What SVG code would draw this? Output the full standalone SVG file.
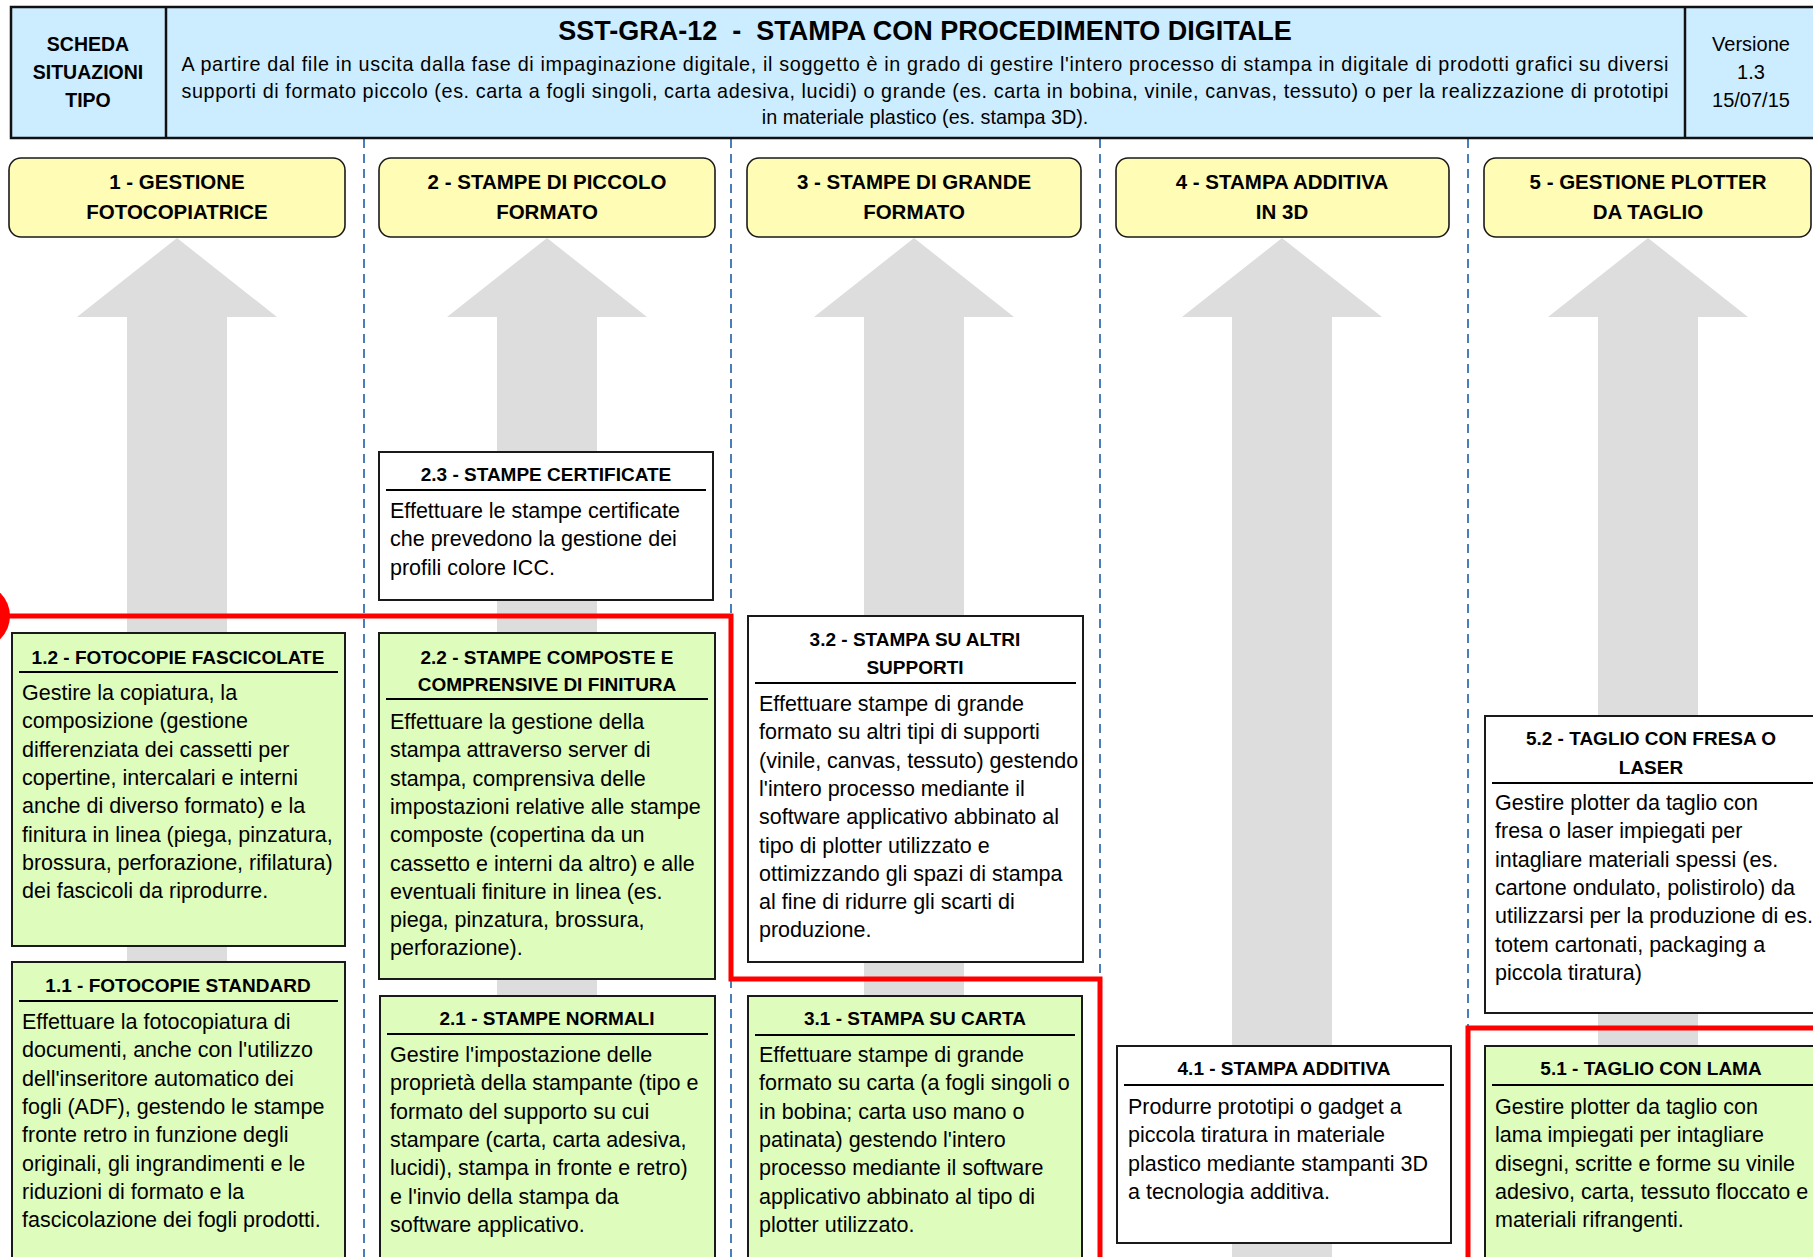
<svg xmlns="http://www.w3.org/2000/svg" width="1813" height="1257" viewBox="0 0 1813 1257">
<style>
text { font-family: "Liberation Sans", Arial, sans-serif; fill: #000; }
.hd { font-size: 19.5px; font-weight: bold; text-anchor: middle; }
.ver { font-size: 20px; text-anchor: middle; }
.ttl { font-size: 27px; font-weight: bold; text-anchor: middle; white-space: pre; }
.desc { font-size: 19.8px; text-anchor: middle; }
.banner { fill: #CCECFF; stroke: #111; stroke-width: 2.5; }
.div { stroke: #111; stroke-width: 2.5; }
.cat rect { fill: #FFFDB5; stroke: #1a1a1a; stroke-width: 1.6; }
.cat text { font-size: 20.5px; font-weight: bold; text-anchor: middle; }
.box { stroke: #1a1a1a; stroke-width: 2; }
.green { fill: #DEFCBC; }
.white { fill: #FFFFFF; }
.nt { font-size: 19px; font-weight: bold; text-anchor: middle; }
.nb { font-size: 21.5px; }
.rule { stroke: #000; stroke-width: 2.2; }
.lane { stroke: #4A7EBB; stroke-width: 2; stroke-dasharray: 9 6; }
.arrow { fill: #DDDDDD; }
.red { fill: none; stroke: #FF0000; stroke-width: 5; }
</style>

<!-- big grey flow arrows, one per column -->
<g id="connectors">
  <polygon class="arrow" points="177,238 277,317 227,317 227,1257 127,1257 127,317 77,317"/>
  <polygon class="arrow" points="547,238 647,317 597,317 597,1257 497,1257 497,317 447,317"/>
  <polygon class="arrow" points="914,238 1014,317 964,317 964,1257 864,1257 864,317 814,317"/>
  <polygon class="arrow" points="1282,238 1382,317 1332,317 1332,1257 1232,1257 1232,317 1182,317"/>
  <polygon class="arrow" points="1648,238 1748,317 1698,317 1698,1257 1598,1257 1598,317 1548,317"/>
</g>

<!-- column separators -->
<g id="lanes">
  <line class="lane" x1="364" y1="139" x2="364" y2="1257"/>
  <line class="lane" x1="731" y1="139" x2="731" y2="1257"/>
  <line class="lane" x1="1100" y1="139" x2="1100" y2="1257"/>
  <line class="lane" x1="1468" y1="139" x2="1468" y2="1257"/>
</g>

<!-- title banner -->
<g id="banner">
  <rect class="banner" x="11" y="7" width="1820" height="131"/>
  <line class="div" x1="166" y1="7" x2="166" y2="138"/>
  <line class="div" x1="1685" y1="7" x2="1685" y2="138"/>
  <text class="hd" x="88" y="51">SCHEDA</text>
  <text class="hd" x="88" y="79">SITUAZIONI</text>
  <text class="hd" x="88" y="107">TIPO</text>
  <text class="ttl" x="925" y="40">SST-GRA-12  -  STAMPA CON PROCEDIMENTO DIGITALE</text>
  <text class="desc" x="925" y="71" textLength="1487" lengthAdjust="spacing">A partire dal file in uscita dalla fase di impaginazione digitale, il soggetto è in grado di gestire l'intero processo di stampa in digitale di prodotti grafici su diversi</text>
  <text class="desc" x="925" y="98" textLength="1487" lengthAdjust="spacing">supporti di formato piccolo (es. carta a fogli singoli, carta adesiva, lucidi) o grande (es. carta in bobina, vinile, canvas, tessuto) o per la realizzazione di prototipi</text>
  <text class="desc" x="925" y="124">in materiale plastico (es. stampa 3D).</text>
  <text class="ver" x="1751" y="51">Versione</text>
  <text class="ver" x="1751" y="79">1.3</text>
  <text class="ver" x="1751" y="107">15/07/15</text>
</g>

<!-- column headings -->
<g id="cat1" class="cat">
  <rect x="9" y="158" width="336" height="79" rx="12"/>
  <text x="177" y="189">1 - GESTIONE</text>
  <text x="177" y="219">FOTOCOPIATRICE</text>
</g>
<g id="cat2" class="cat">
  <rect x="379" y="158" width="336" height="79" rx="12"/>
  <text x="547" y="189">2 - STAMPE DI PICCOLO</text>
  <text x="547" y="219">FORMATO</text>
</g>
<g id="cat3" class="cat">
  <rect x="747" y="158" width="334" height="79" rx="12"/>
  <text x="914" y="189">3 - STAMPE DI GRANDE</text>
  <text x="914" y="219">FORMATO</text>
</g>
<g id="cat4" class="cat">
  <rect x="1116" y="158" width="333" height="79" rx="12"/>
  <text x="1282" y="189">4 - STAMPA ADDITIVA</text>
  <text x="1282" y="219">IN 3D</text>
</g>
<g id="cat5" class="cat">
  <rect x="1484" y="158" width="327" height="79" rx="12"/>
  <text x="1648" y="189">5 - GESTIONE PLOTTER</text>
  <text x="1648" y="219">DA TAGLIO</text>
</g>

<!-- column 1 -->
<g id="n1_2">
  <rect class="box green" x="12" y="633" width="333" height="313"/>
  <text class="nt" x="178" y="664">1.2 - FOTOCOPIE FASCICOLATE</text>
  <line class="rule" x1="19" y1="672" x2="338" y2="672"/>
  <text class="nb" y="700">
    <tspan x="22">Gestire la copiatura, la</tspan>
    <tspan x="22" dy="28.3">composizione (gestione</tspan>
    <tspan x="22" dy="28.3">differenziata dei cassetti per</tspan>
    <tspan x="22" dy="28.3">copertine, intercalari e interni</tspan>
    <tspan x="22" dy="28.3">anche di diverso formato) e la</tspan>
    <tspan x="22" dy="28.3">finitura in linea (piega, pinzatura,</tspan>
    <tspan x="22" dy="28.3">brossura, perforazione, rifilatura)</tspan>
    <tspan x="22" dy="28.3">dei fascicoli da riprodurre.</tspan>
  </text>
</g>
<g id="n1_1">
  <rect class="box green" x="12" y="962" width="333" height="310"/>
  <text class="nt" x="178" y="992">1.1 - FOTOCOPIE STANDARD</text>
  <line class="rule" x1="19" y1="1001" x2="338" y2="1001"/>
  <text class="nb" y="1029">
    <tspan x="22">Effettuare la fotocopiatura di</tspan>
    <tspan x="22" dy="28.3">documenti, anche con l'utilizzo</tspan>
    <tspan x="22" dy="28.3">dell'inseritore automatico dei</tspan>
    <tspan x="22" dy="28.3">fogli (ADF), gestendo le stampe</tspan>
    <tspan x="22" dy="28.3">fronte retro in funzione degli</tspan>
    <tspan x="22" dy="28.3">originali, gli ingrandimenti e le</tspan>
    <tspan x="22" dy="28.3">riduzioni di formato e la</tspan>
    <tspan x="22" dy="28.3">fascicolazione dei fogli prodotti.</tspan>
  </text>
</g>

<!-- column 2 -->
<g id="n2_3">
  <rect class="box white" x="379" y="452" width="334" height="148"/>
  <text class="nt" x="546" y="481">2.3 - STAMPE CERTIFICATE</text>
  <line class="rule" x1="386" y1="490" x2="706" y2="490"/>
  <text class="nb" y="518">
    <tspan x="390">Effettuare le stampe certificate</tspan>
    <tspan x="390" dy="28.3">che prevedono la gestione dei</tspan>
    <tspan x="390" dy="28.3">profili colore ICC.</tspan>
  </text>
</g>
<g id="n2_2">
  <rect class="box green" x="379" y="633" width="336" height="346"/>
  <text class="nt" x="547" y="664">2.2 - STAMPE COMPOSTE E</text>
  <text class="nt" x="547" y="691">COMPRENSIVE DI FINITURA</text>
  <line class="rule" x1="386" y1="699" x2="708" y2="699"/>
  <text class="nb" y="729">
    <tspan x="390">Effettuare la gestione della</tspan>
    <tspan x="390" dy="28.3">stampa attraverso server di</tspan>
    <tspan x="390" dy="28.3">stampa, comprensiva delle</tspan>
    <tspan x="390" dy="28.3">impostazioni relative alle stampe</tspan>
    <tspan x="390" dy="28.3">composte (copertina da un</tspan>
    <tspan x="390" dy="28.3">cassetto e interni da altro) e alle</tspan>
    <tspan x="390" dy="28.3">eventuali finiture in linea (es.</tspan>
    <tspan x="390" dy="28.3">piega, pinzatura, brossura,</tspan>
    <tspan x="390" dy="28.3">perforazione).</tspan>
  </text>
</g>
<g id="n2_1">
  <rect class="box green" x="380" y="996" width="335" height="276"/>
  <text class="nt" x="547" y="1025">2.1 - STAMPE NORMALI</text>
  <line class="rule" x1="387" y1="1034" x2="708" y2="1034"/>
  <text class="nb" y="1062">
    <tspan x="390">Gestire l'impostazione delle</tspan>
    <tspan x="390" dy="28.3">proprietà della stampante (tipo e</tspan>
    <tspan x="390" dy="28.3">formato del supporto su cui</tspan>
    <tspan x="390" dy="28.3">stampare (carta, carta adesiva,</tspan>
    <tspan x="390" dy="28.3">lucidi), stampa in fronte e retro)</tspan>
    <tspan x="390" dy="28.3">e l'invio della stampa da</tspan>
    <tspan x="390" dy="28.3">software applicativo.</tspan>
  </text>
</g>

<!-- column 3 -->
<g id="n3_2">
  <rect class="box white" x="748" y="616" width="335" height="346"/>
  <text class="nt" x="915" y="646">3.2 - STAMPA SU ALTRI</text>
  <text class="nt" x="915" y="674">SUPPORTI</text>
  <line class="rule" x1="755" y1="683" x2="1076" y2="683"/>
  <text class="nb" y="711">
    <tspan x="759">Effettuare stampe di grande</tspan>
    <tspan x="759" dy="28.3">formato su altri tipi di supporti</tspan>
    <tspan x="759" dy="28.3">(vinile, canvas, tessuto) gestendo</tspan>
    <tspan x="759" dy="28.3">l'intero processo mediante il</tspan>
    <tspan x="759" dy="28.3">software applicativo abbinato al</tspan>
    <tspan x="759" dy="28.3">tipo di plotter utilizzato e</tspan>
    <tspan x="759" dy="28.3">ottimizzando gli spazi di stampa</tspan>
    <tspan x="759" dy="28.3">al fine di ridurre gli scarti di</tspan>
    <tspan x="759" dy="28.3">produzione.</tspan>
  </text>
</g>
<g id="n3_1">
  <rect class="box green" x="748" y="996" width="334" height="276"/>
  <text class="nt" x="915" y="1025">3.1 - STAMPA SU CARTA</text>
  <line class="rule" x1="755" y1="1035" x2="1075" y2="1035"/>
  <text class="nb" y="1062">
    <tspan x="759">Effettuare stampe di grande</tspan>
    <tspan x="759" dy="28.3">formato su carta (a fogli singoli o</tspan>
    <tspan x="759" dy="28.3">in bobina; carta uso mano o</tspan>
    <tspan x="759" dy="28.3">patinata) gestendo l'intero</tspan>
    <tspan x="759" dy="28.3">processo mediante il software</tspan>
    <tspan x="759" dy="28.3">applicativo abbinato al tipo di</tspan>
    <tspan x="759" dy="28.3">plotter utilizzato.</tspan>
  </text>
</g>

<!-- column 4 -->
<g id="n4_1">
  <rect class="box white" x="1117" y="1046" width="334" height="197"/>
  <text class="nt" x="1284" y="1075">4.1 - STAMPA ADDITIVA</text>
  <line class="rule" x1="1124" y1="1085" x2="1444" y2="1085"/>
  <text class="nb" y="1114">
    <tspan x="1128">Produrre prototipi o gadget a</tspan>
    <tspan x="1128" dy="28.3">piccola tiratura in materiale</tspan>
    <tspan x="1128" dy="28.3">plastico mediante stampanti 3D</tspan>
    <tspan x="1128" dy="28.3">a tecnologia additiva.</tspan>
  </text>
</g>

<!-- column 5 -->
<g id="n5_2">
  <rect class="box white" x="1485" y="716" width="336" height="297"/>
  <text class="nt" x="1651" y="745">5.2 - TAGLIO CON FRESA O</text>
  <text class="nt" x="1651" y="774">LASER</text>
  <line class="rule" x1="1492" y1="783" x2="1813" y2="783"/>
  <text class="nb" y="810">
    <tspan x="1495">Gestire plotter da taglio con</tspan>
    <tspan x="1495" dy="28.3">fresa o laser impiegati per</tspan>
    <tspan x="1495" dy="28.3">intagliare materiali spessi (es.</tspan>
    <tspan x="1495" dy="28.3">cartone ondulato, polistirolo) da</tspan>
    <tspan x="1495" dy="28.3">utilizzarsi per la produzione di es.</tspan>
    <tspan x="1495" dy="28.3">totem cartonati, packaging a</tspan>
    <tspan x="1495" dy="28.3">piccola tiratura)</tspan>
  </text>
</g>
<g id="n5_1">
  <rect class="box green" x="1485" y="1046" width="336" height="226"/>
  <text class="nt" x="1651" y="1075">5.1 - TAGLIO CON LAMA</text>
  <line class="rule" x1="1492" y1="1085" x2="1813" y2="1085"/>
  <text class="nb" y="1114">
    <tspan x="1495">Gestire plotter da taglio con</tspan>
    <tspan x="1495" dy="28.3">lama impiegati per intagliare</tspan>
    <tspan x="1495" dy="28.3">disegni, scritte e forme su vinile</tspan>
    <tspan x="1495" dy="28.3">adesivo, carta, tessuto floccato e</tspan>
    <tspan x="1495" dy="28.3">materiali rifrangenti.</tspan>
  </text>
</g>

<!-- red boundary line -->
<g id="boundary">
  <circle cx="-22" cy="616" r="32" fill="#FF0000"/>
  <path class="red" d="M0 616 H731 V979 H1100 V1260"/>
  <path class="red" d="M1468 1260 V1028 H1816"/>
</g>
</svg>
